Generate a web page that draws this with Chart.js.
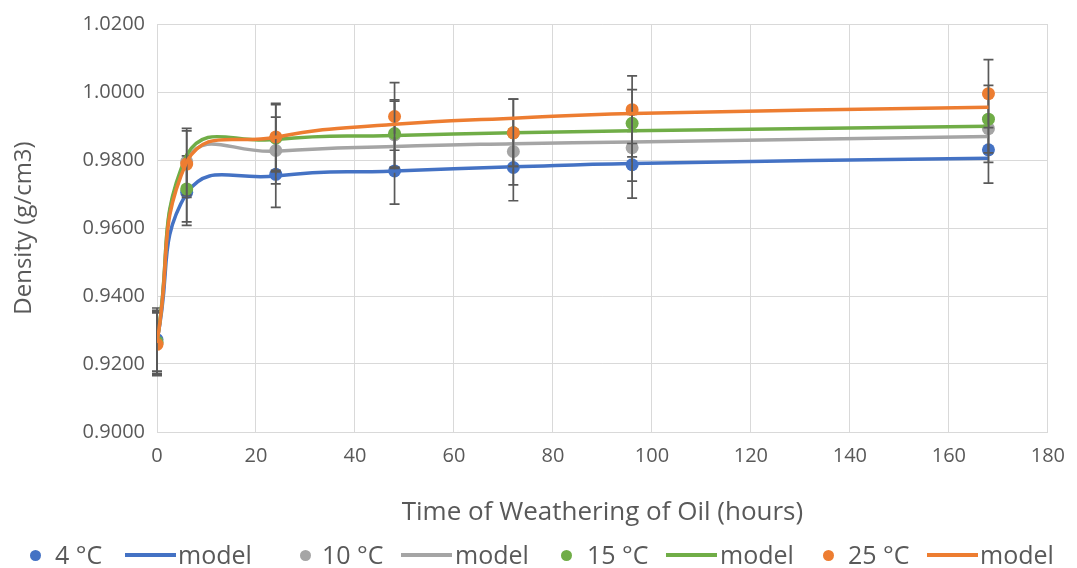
<!DOCTYPE html>
<html>
<head>
<meta charset="utf-8">
<title>Density vs time of weathering</title>
<script src="https://cdn.jsdelivr.net/npm/chart.js@4.4.1/dist/chart.umd.min.js"></script>
<style>
  html, body { margin: 0; padding: 0; background: #fff; }
  #wrap { position: relative; width: 1077px; height: 568px; }
  #legend {
    position: absolute; left: 0; top: 541px; width: 1077px; height: 28px;
    font-family: "Open Sans", sans-serif; font-size: 25px; color: #595959;
  }
  #legend span { position: absolute; }
  #legend .dot { top: 9px; width: 11px; height: 11px; border-radius: 50%; }
  #legend .bar { top: 12px; width: 51px; height: 4px; }
  #legend .txt { top: -2px; line-height: 30px; white-space: nowrap; }
</style>
</head>
<body>
<div id="wrap">
  <canvas id="chart"></canvas>
  <div id="legend"></div>
</div>
<script>
  // hours of weathering (x) and measured densities (g/cm3)
  const hours = [0, 6, 24, 48, 72, 96, 168];
  const d4  = [0.9272, 0.9705, 0.9758, 0.9768, 0.9778, 0.9786, 0.9830];
  const d10 = [0.9262, 0.9795, 0.9828, 0.9874, 0.9825, 0.9836, 0.9892];
  const d15 = [0.9265, 0.9715, 0.9864, 0.9878, 0.9880, 0.9908, 0.9920];
  const d25 = [0.9258, 0.9788, 0.9868, 0.9928, 0.9880, 0.9948, 0.9995];

  // model curves at the same times
  const m4  = [0.9270, 0.9703, 0.9753, 0.9768, 0.9780, 0.9790, 0.9805];
  const m10 = [0.9265, 0.9802, 0.9826, 0.9840, 0.9848, 0.9853, 0.9869];
  const m15 = [0.9265, 0.9815, 0.9860, 0.9872, 0.9880, 0.9886, 0.9899];
  const m25 = [0.9262, 0.9795, 0.9867, 0.9905, 0.9923, 0.9937, 0.9955];

  const errPct = 0.01; // error bars: +/- 1 %

  const labels = ["4 °C", "model", "10 °C", "model", "15 °C", "model", "25 °C", "model"];
  const colors = ["#4472C4", "#4472C4", "#A5A5A5", "#A5A5A5", "#70AD47", "#70AD47", "#ED7D31", "#ED7D31"];
  const series = [d4, m4, d10, m10, d15, m15, d25, m25];
  // legend: left of marker, left of text
  const legendMark = [30, 125, 300, 401, 561, 666, 823, 927];
  const legendText = [55, 178, 322, 455, 587, 720, 848, 980];

  const toXY = (arr) => hours.map((h, i) => ({ x: h, y: arr[i] }));

  const datasets = series.map((arr, i) => {
    const isModel = i % 2 === 1;
    return {
      label: labels[i],
      data: toXY(arr),
      showLine: isModel,
      borderColor: colors[i],
      backgroundColor: colors[i],
      borderWidth: isModel ? 3.5 : 0,
      pointRadius: isModel ? 0 : 6.5,
      pointHoverRadius: isModel ? 0 : 6.5,
      tension: 0.5,
      order: series.length - i,
      isModel: isModel,
    };
  });

  const errorBars = {
    id: "errorBars",
    afterDatasetDraw(chart, args) {
      const ds = chart.data.datasets[args.index];
      if (ds.isModel) return;
      const ctx = chart.ctx;
      const xs = chart.scales.x, ys = chart.scales.y;
      ctx.save();
      ctx.strokeStyle = "#595959";
      ctx.lineWidth = 1.7;
      ds.data.forEach((p) => {
        const px = xs.getPixelForValue(p.x);
        const top = ys.getPixelForValue(p.y * (1 + errPct));
        const bot = ys.getPixelForValue(p.y * (1 - errPct));
        ctx.beginPath();
        ctx.moveTo(px, top); ctx.lineTo(px, bot);
        ctx.moveTo(px - 5, top); ctx.lineTo(px + 5, top);
        ctx.moveTo(px - 5, bot); ctx.lineTo(px + 5, bot);
        ctx.stroke();
      });
      ctx.restore();
    },
  };

  const tickFont = { family: "Open Sans", size: 20 };
  const grid = { color: "#D9D9D9", lineWidth: 1, drawTicks: false };

  new Chart(document.getElementById("chart"), {
    type: "scatter",
    data: { datasets: datasets },
    options: {
      responsive: true,
      maintainAspectRatio: false,
      animation: false,
      layout: { padding: { left: 8, right: 29, top: 22, bottom: 36 } },
      plugins: { legend: { display: false }, tooltip: { enabled: false } },
      scales: {
        x: {
          min: 0, max: 180,
          grid: grid,
          border: { color: "#D9D9D9" },
          ticks: { stepSize: 20, color: "#595959", font: tickFont, padding: 12 },
          title: { display: true, text: "Time of Weathering of Oil (hours)", color: "#595959",
                   font: { family: "Open Sans", size: 26 }, padding: { top: 4, bottom: 4 } },
          afterFit(scale) { scale.height = 100; },
        },
        y: {
          min: 0.9, max: 1.02,
          grid: grid,
          border: { color: "#D9D9D9" },
          ticks: { stepSize: 0.02, color: "#595959", font: tickFont, padding: 12, callback: (v) => v.toFixed(4) },
          title: { display: true, text: "Density (g/cm3)", color: "#595959",
                   font: { family: "Open Sans", size: 24 }, padding: { top: 2, bottom: 4 } },
          afterFit(scale) { scale.width = 149; },
        },
      },
    },
    plugins: [errorBars],
  });

  // legend below the chart
  const legendEl = document.getElementById("legend");
  labels.forEach((txt, i) => {
    const mark = document.createElement("span");
    mark.className = i % 2 ? "bar" : "dot";
    mark.style.left = legendMark[i] + "px";
    mark.style.background = colors[i];
    const t = document.createElement("span");
    t.className = "txt";
    t.style.left = legendText[i] + "px";
    t.textContent = txt;
    legendEl.appendChild(mark);
    legendEl.appendChild(t);
  });
</script>
</body>
</html>
